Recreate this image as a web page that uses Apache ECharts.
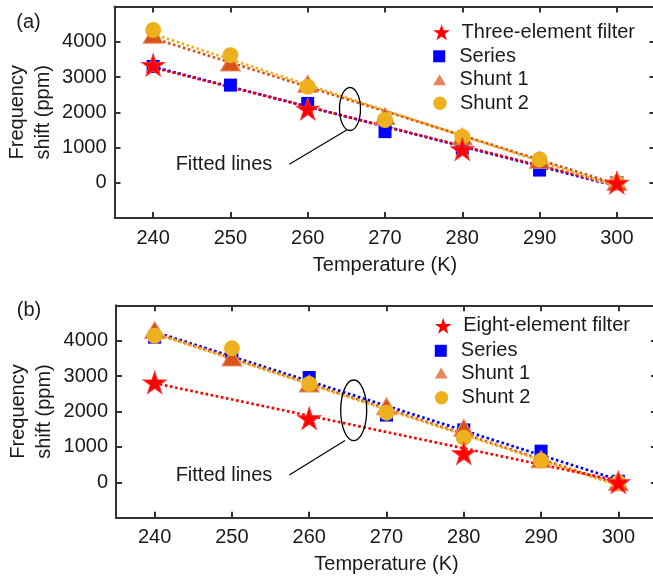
<!DOCTYPE html>
<html><head><meta charset="utf-8">
<script src="https://cdn.jsdelivr.net/npm/echarts@6/dist/echarts.min.js"></script>
<style>html,body{margin:0;padding:0;background:#fff}#c{width:653px;height:577px}</style>
</head><body><div id="c"></div>
<script>
// ---------- data ----------
const temps = [240, 250, 260, 270, 280, 290, 300];
const starTemps = [240, 260, 280, 300];
const fitTemps = [240, 300];
const xTicks = [240, 250, 260, 270, 280, 290, 300];
const yTicks = [0, 1000, 2000, 3000, 4000];

// panel (a)
const aFilter = [3340, 2100, 950, 0];
const aSeries = [3300, 2770, 2250, 1450, 980, 360, 0];
const aShunt1 = [4200, 3410, 2810, 1890, 1310, 650, 20];
const aShunt2 = [4330, 3620, 2720, 1780, 1305, 663, 0];
const aFitFilter = [3270, -70];
const aFitSeries = [3290, -100];
const aFitShunt1 = [4100, -40];
const aFitShunt2 = [4220, -110];

// panel (b)
const bFilter = [2820, 1808, 819, 0];
const bSeries = [4100, 3580, 2960, 1900, 1480, 880, 30];
const bShunt1 = [4300, 3525, 2790, 2150, 1540, 650, 0];
const bShunt2 = [4140, 3785, 2777, 1966, 1260, 610, 0];
const bFitFilter = [2800, 40];
const bFitSeries = [4250, 70];
const bFitShunt1 = [4220, -60];
const bFitShunt2 = [4200, -90];

// ---------- style ----------
const FONT = 'Liberation Sans, Arial, Helvetica, sans-serif';
const AX = '#333333';
const TXT = '#1a1a1a';
const RED = '#ff0000', BLUE = '#0000ff', ORANGE = '#d95319', YELLOW = '#edb120';
const STAR = 'path://M50,0L61.23,34.55L97.55,34.55L68.16,55.9L79.39,90.45L50,69.1L20.61,90.45L31.84,55.9L2.45,34.55L38.77,34.55Z';
const SQUARE = 'path://M0,0L10,0L10,10L0,10Z';
const TRI = 'path://M50,0L100,86L0,86Z';

function pairs(xs, ys) { return xs.map((x, i) => [x, ys[i]]); }
const plain = v => String(v);

function xAxisDef(grid, pos, showLabels) {
  return {
    type: 'value', gridIndex: grid, position: pos, min: 235, max: 305,
    name: showLabels ? 'Temperature (K)' : '', nameLocation: 'middle', nameGap: 37, nameMoveOverlap: false,
    nameTextStyle: { fontSize: 20, color: TXT, fontFamily: FONT },
    axisLine: { show: true, onZero: false, lineStyle: { color: AX, width: 2 } },
    axisTick: { show: true, inside: true, length: 6, customValues: xTicks, lineStyle: { color: AX, width: 2 } },
    axisLabel: { show: showLabels, customValues: xTicks, formatter: plain, margin: 10, fontSize: 20, color: TXT, fontFamily: FONT },
    splitLine: { show: false }
  };
}
function yAxisDef(grid, pos, showLabels) {
  return {
    type: 'value', gridIndex: grid, position: pos, min: -1000, max: 5000,
    name: showLabels ? 'Frequency\nshift (ppm)' : '', nameLocation: 'middle', nameGap: 58.5, nameMoveOverlap: false,
    nameTextStyle: { fontSize: 20, color: TXT, fontFamily: FONT, lineHeight: 26 },
    axisLine: { show: true, onZero: false, lineStyle: { color: AX, width: 2 } },
    axisTick: { show: true, inside: true, length: 6, customValues: yTicks, lineStyle: { color: AX, width: 2 } },
    axisLabel: { show: showLabels, customValues: yTicks, formatter: plain, margin: 8, fontSize: 20, color: TXT, fontFamily: FONT },
    splitLine: { show: false }
  };
}

function fitLine(name, xi, yi, ys, color, z, offset) {
  return {
    name, type: 'line', xAxisIndex: xi, yAxisIndex: yi, data: pairs(fitTemps, ys),
    symbol: 'none', silent: true, z,
    lineStyle: { color, width: 2.7, type: [2.6, 2.6], dashOffset: offset || 0, cap: 'butt' }
  };
}
function scat(name, xi, yi, xs, ys, symbol, size, color, z, border) {
  return {
    name, type: 'scatter', xAxisIndex: xi, yAxisIndex: yi, data: pairs(xs, ys),
    symbol, symbolSize: size, z,
    itemStyle: { color, opacity: 1, borderColor: border || color, borderWidth: border ? 1 : 0 }
  };
}

function leg(name, icon, color, left, cy, h) {
  return {
    show: true, data: [{ name, icon, itemStyle: { color, borderWidth: 0 } }],
    left, top: cy - Math.max(h, 20) / 2, itemWidth: 30, itemHeight: h, padding: 0,
    orient: 'horizontal', selectedMode: false, symbolKeepAspect: true,
    textStyle: { fontSize: 20, color: TXT, fontFamily: FONT, lineHeight: 20 }
  };
}

const chart = echarts.init(document.getElementById('c'), null, { renderer: 'canvas' });
chart.setOption({
  animation: false,
  backgroundColor: '#ffffff',
  grid: [
    { left: 114.5, top: 6.5, width: 541, height: 211.5, outerBoundsMode: 'none' },
    { left: 116, top: 305.3, width: 541, height: 212.4, outerBoundsMode: 'none' }
  ],
  xAxis: [xAxisDef(0, 'bottom', true), xAxisDef(0, 'top', false), xAxisDef(1, 'bottom', true), xAxisDef(1, 'top', false)],
  yAxis: [yAxisDef(0, 'left', true), yAxisDef(0, 'right', false), yAxisDef(1, 'left', true), yAxisDef(1, 'right', false)],
  legend: [
    leg('Three-element filter', STAR, RED, 433.2, 32.2, 16),
    leg('Series', SQUARE, BLUE, 433.2, 56.3, 12),
    leg('Shunt 1', TRI, '#e6855e', 433.2, 79.8, 11),
    leg('Shunt 2', 'circle', YELLOW, 433.2, 103.2, 13.5),
    leg('Eight-element filter', STAR, RED, 434.8, 325.8, 16),
    leg('Series', SQUARE, BLUE, 434.8, 350.8, 12),
    leg('Shunt 1', TRI, '#e6855e', 434.8, 373, 11),
    leg('Shunt 2', 'circle', YELLOW, 434.8, 397.8, 13.5)
  ],
  series: [
    // panel (a) fitted lines
    fitLine('fitA-series', 0, 0, aFitSeries, BLUE, 2, 0),
    fitLine('fitA-filter', 0, 0, aFitFilter, RED, 3, 1.2),
    fitLine('fitA-shunt1', 0, 0, aFitShunt1, ORANGE, 2, 0),
    fitLine('fitA-shunt2', 0, 0, aFitShunt2, YELLOW, 3, 1.2),
    // panel (a) markers
    scat('Series', 0, 0, temps, aSeries, SQUARE, 13, BLUE, 4),
    scat('Shunt 1', 0, 0, temps, aShunt1, TRI, [20, 17], ORANGE, 5, '#e8946e'),
    scat('Shunt 2', 0, 0, temps, aShunt2, 'circle', 16, YELLOW, 6),
    scat('Three-element filter', 0, 0, starTemps, aFilter, STAR, [23, 22], RED, 7, '#ff3030'),
    // panel (b) fitted lines
    fitLine('fitB-series', 2, 2, bFitSeries, BLUE, 2, 0),
    fitLine('fitB-shunt1', 2, 2, bFitShunt1, ORANGE, 2, 1.2),
    fitLine('fitB-shunt2', 2, 2, bFitShunt2, YELLOW, 3, 0),
    fitLine('fitB-filter', 2, 2, bFitFilter, RED, 3, 0),
    // panel (b) markers
    scat('Series', 2, 2, temps, bSeries, SQUARE, 13, BLUE, 4),
    scat('Shunt 1', 2, 2, temps, bShunt1, TRI, [20, 17], ORANGE, 5, '#e8946e'),
    scat('Shunt 2', 2, 2, temps, bShunt2, 'circle', 16, YELLOW, 6),
    scat('Eight-element filter', 2, 2, starTemps, bFilter, STAR, [23, 22], RED, 7, '#ff3030')
  ],
  graphic: [
    { type: 'text', x: 28.5, y: 22, style: { text: '(a)', fontSize: 20, fontFamily: FONT, fill: TXT, align: 'center', verticalAlign: 'middle' } },
    { type: 'text', x: 29, y: 310.5, style: { text: '(b)', fontSize: 20, fontFamily: FONT, fill: TXT, align: 'center', verticalAlign: 'middle' } },
    { type: 'ellipse', shape: { cx: 350, cy: 109, rx: 10.5, ry: 21.5 }, style: { fill: 'none', stroke: '#000', lineWidth: 1.3 }, z: 10 },
    { type: 'line', shape: { x1: 289.3, y1: 164.3, x2: 346.7, y2: 130 }, style: { stroke: '#000', lineWidth: 1.2 }, z: 10 },
    { type: 'text', x: 224, y: 164.3, style: { text: 'Fitted lines', fontSize: 20, fontFamily: FONT, fill: TXT, align: 'center', verticalAlign: 'middle' }, z: 10 },
    { type: 'ellipse', shape: { cx: 353.7, cy: 410.3, rx: 13, ry: 30.3 }, style: { fill: 'none', stroke: '#000', lineWidth: 1.3 }, z: 10 },
    { type: 'line', shape: { x1: 289.3, y1: 475, x2: 345, y2: 440.5 }, style: { stroke: '#000', lineWidth: 1.2 }, z: 10 },
    { type: 'text', x: 224, y: 475, style: { text: 'Fitted lines', fontSize: 20, fontFamily: FONT, fill: TXT, align: 'center', verticalAlign: 'middle' }, z: 10 }
  ]
});
</script>
</body></html>
